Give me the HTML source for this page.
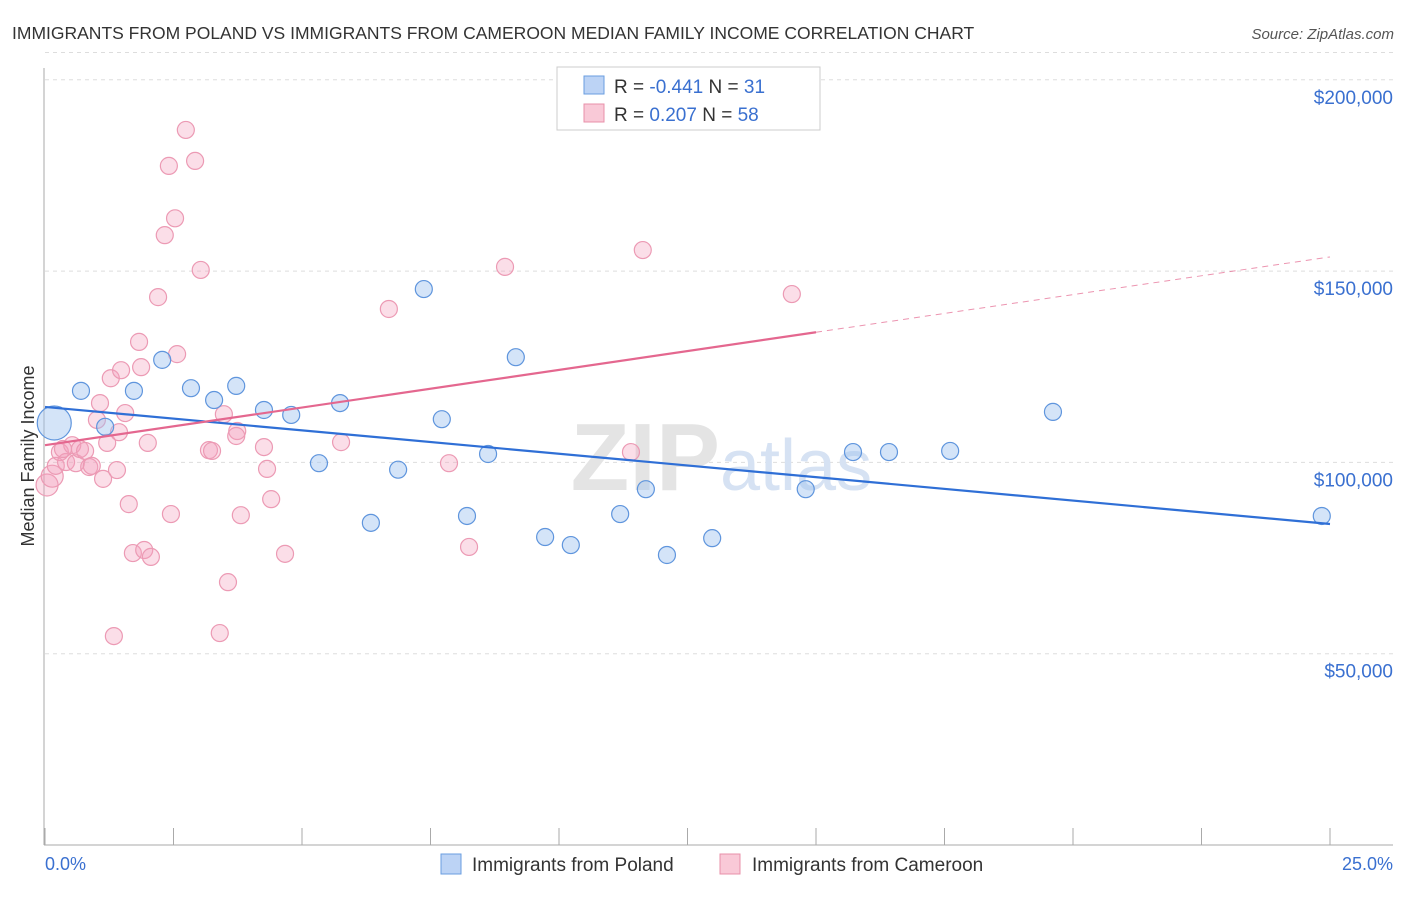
<!DOCTYPE html>
<html><head><meta charset="utf-8"><style>
body{margin:0;background:#fff;font-family:"Liberation Sans",sans-serif}
svg text{font-family:"Liberation Sans",sans-serif}
</style></head><body>
<svg width="1406" height="892" viewBox="0 0 1406 892">
<text x="12" y="39" font-size="17.5" fill="#333">IMMIGRANTS FROM POLAND VS IMMIGRANTS FROM CAMEROON MEDIAN FAMILY INCOME CORRELATION CHART</text>
<text x="1394" y="39" font-size="15" fill="#555" font-style="italic" text-anchor="end">Source: ZipAtlas.com</text>
<g id="grid"></g>
<text x="720" y="490" font-size="96" fill="#e4e4e4" text-anchor="end" font-family="Liberation Serif" font-weight="bold">ZIP</text>
<text x="720" y="490" font-size="72" fill="#d6e2f3">atlas</text>
<line x1="44" y1="68" x2="44" y2="845" stroke="#aaa"/>
<line x1="44" y1="845" x2="1393" y2="845" stroke="#aaa"/>
<g id="ticks"></g>
<g id="ylabels"></g>
<text x="45" y="870" font-size="18" fill="#3a70d0">0.0%</text>
<text x="1393" y="870" font-size="18" fill="#3a70d0" text-anchor="end">25.0%</text>
<text transform="translate(34,456) rotate(-90)" font-size="18" fill="#333" text-anchor="middle">Median Family Income</text>
<g id="pts"></g>
<g id="trends"></g>
<g>
<rect x="557" y="67" width="263" height="63" fill="#fff" stroke="#ccc"/>
<rect x="584" y="76" width="20" height="18" fill="#bcd3f5" stroke="#6a9ee0"/>
<rect x="584" y="104" width="20" height="18" fill="#f9c9d7" stroke="#e890aa"/>
<text x="614" y="93" font-size="19" fill="#333">R = <tspan fill="#3a70d0">-0.441</tspan>   N = <tspan fill="#3a70d0"> 31</tspan></text>
<text x="614" y="121" font-size="19" fill="#333">R = <tspan fill="#3a70d0"> 0.207</tspan>   N = <tspan fill="#3a70d0">58</tspan></text>
</g>
<g>
<rect x="441" y="854" width="20" height="20" fill="#bcd3f5" stroke="#6a9ee0"/>
<text x="472" y="871" font-size="19" fill="#333">Immigrants from Poland</text>
<rect x="720" y="854" width="20" height="20" fill="#f9c9d7" stroke="#e890aa"/>
<text x="752" y="871" font-size="19" fill="#333">Immigrants from Cameroon</text>
</g>
</svg>
<script>
const yTicks=[50000,100000,150000,200000];
const yTickLabels=["$50,000","$100,000","$150,000","$200,000"];
const xTicks=[0,2.5,5,7.5,10,12.5,15,17.5,20,22.5,25];
const polandX=[0.18,0.70,1.17,1.73,2.28,2.84,3.29,3.72,4.26,4.79,5.33,5.74,6.34,6.87,7.37,7.72,8.21,8.62,9.16,9.73,10.23,11.19,11.69,12.10,12.98,14.80,15.72,16.42,17.61,19.61,24.84];
const polandY=[110.3,118.7,109.3,118.7,126.8,119.4,116.3,120.0,113.7,112.4,99.8,115.5,84.2,98.1,145.3,111.3,86.0,102.2,127.5,80.5,78.4,86.5,93.0,75.8,80.2,93.0,102.7,102.7,103.0,113.2,86.0];
const camX=[0.04,0.14,0.21,0.29,0.41,0.53,0.60,0.68,0.78,0.86,0.91,1.01,1.07,1.13,1.21,1.28,1.34,1.44,1.48,1.56,1.63,1.71,1.83,1.87,1.93,2.00,2.06,2.20,2.33,2.41,2.45,2.53,2.57,2.74,2.92,3.03,3.19,3.25,3.40,3.48,3.56,3.74,3.72,3.81,4.26,4.32,4.40,4.67,5.76,6.69,7.86,8.25,8.95,11.40,11.63,14.53,0.35,1.40];
const camY=[94.1,96.4,99.1,102.7,100.1,104.5,99.8,103.5,103.0,98.8,99.1,111.1,115.5,95.7,105.1,122.0,54.6,107.9,124.1,112.9,89.1,76.3,131.5,124.9,77.1,105.1,75.3,143.2,159.4,177.5,86.5,163.8,128.3,186.9,178.8,150.3,103.2,103.0,55.4,112.6,68.7,108.2,106.9,86.2,104.0,98.3,90.4,76.1,105.3,140.1,99.8,77.9,151.1,102.7,155.5,144.0,103.5,98.0];
const polandTrend=[114.5,83.9];
const camTrend=[104.5,153.7];
const camSolidEnd=15;
const X=v=>45+v/25*1285, Y=v=>845-v/50000*191.3, Yk=v=>Y(v*1000);
const NS="http://www.w3.org/2000/svg";
function mk(t,a,p){const e=document.createElementNS(NS,t);for(const k in a)e.setAttribute(k,a[k]);p.appendChild(e);return e;}
const grid=document.getElementById('grid'),yl=document.getElementById('ylabels');
yTicks.forEach((v,i)=>{
 const l=mk('line',{x1:45,x2:1393,y1:Y(v),y2:Y(v),stroke:'#ddd','stroke-dasharray':'4,4'},grid);
 
 
 const t=mk('text',{x:1393,y:Y(v)+24,'font-size':19,fill:'#3a70d0','text-anchor':'end'},yl);
 t.textContent=yTickLabels[i];
 
 
});
mk('line',{x1:45,x2:1393,y1:Y(210000)+11,y2:Y(210000)+11,stroke:'#ddd','stroke-dasharray':'4,4'},grid);
const tk=document.getElementById('ticks');
xTicks.forEach(v=>{const l=mk('line',{x1:X(v),x2:X(v),y1:828,y2:845,stroke:'#aaa'},tk);
 
 });
const pts=document.getElementById('pts');
camX.forEach((x,i)=>{const c=mk('circle',{cx:X(x),cy:Yk(camY[i]),r:(i<2?11:8.5),fill:'rgba(244,160,188,0.35)',stroke:'#ec9ab4','stroke-width':1.2},pts);
 
 });
polandX.forEach((x,i)=>{const c=mk('circle',{cx:X(x),cy:Yk(polandY[i]),r:(i==0?17:8.5),fill:'rgba(160,195,240,0.45)',stroke:'#5f95dd','stroke-width':1.2},pts);
 
 });
const tr=document.getElementById('trends');
const b=mk('line',{x1:X(0),y1:Yk(polandTrend[0]),x2:X(25),y2:Yk(polandTrend[1]),stroke:'#2f6fd6','stroke-width':2.2},tr);


const cy=x=>camTrend[0]+(camTrend[1]-camTrend[0])*x/25;
const p1=mk('line',{x1:X(0),y1:Yk(cy(0)),x2:X(camSolidEnd),y2:Yk(cy(camSolidEnd)),stroke:'#e4678f','stroke-width':2.2},tr);


const p2=mk('line',{x1:X(camSolidEnd),y1:Yk(cy(camSolidEnd)),x2:X(25),y2:Yk(cy(25)),stroke:'#e4678f','stroke-width':1,'stroke-dasharray':'6,5',opacity:0.7},tr);


</script>
</body></html>
